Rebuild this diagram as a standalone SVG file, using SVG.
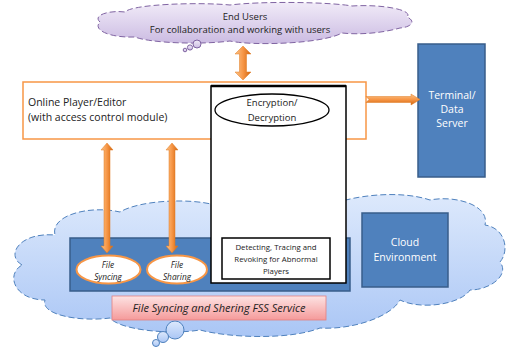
<svg xmlns="http://www.w3.org/2000/svg" width="507" height="349" viewBox="0 0 507 349">
<defs>
<linearGradient id="gPurple" x1="0" y1="0" x2="0" y2="1"><stop offset="0" stop-color="#f1ebf8"/><stop offset="1" stop-color="#cbbbe2"/></linearGradient>
<linearGradient id="gBlue" x1="0" y1="0" x2="0" y2="1"><stop offset="0" stop-color="#dde9fc"/><stop offset="1" stop-color="#aac6f5"/></linearGradient>
<linearGradient id="gPink" x1="0" y1="0" x2="0" y2="1"><stop offset="0" stop-color="#fde3e3"/><stop offset="1" stop-color="#f59a9a"/></linearGradient>
<linearGradient id="gOrV" x1="0" y1="0" x2="1" y2="0"><stop offset="0" stop-color="#fbc58a"/><stop offset="0.5" stop-color="#f79646"/><stop offset="1" stop-color="#d0650e"/></linearGradient>
<linearGradient id="gOrH" x1="0" y1="0" x2="0" y2="1"><stop offset="0" stop-color="#fbc58a"/><stop offset="0.5" stop-color="#f79646"/><stop offset="1" stop-color="#d0650e"/></linearGradient>
</defs>
<style>
text{font-family:"Open Sans","Liberation Sans",sans-serif;fill:#222}
.cloudTop{fill:url(#gPurple);stroke:#8064a2;stroke-width:1;stroke-dasharray:6 3}
.cloudBot{fill:url(#gBlue);stroke:#4f81bd;stroke-width:1;stroke-dasharray:6 3}
.blue{fill:#4f81bd;stroke:#385d8a;stroke-width:1.5}
.ov{fill:#fff;stroke:#f79646;stroke-width:2}
.arrV{fill:url(#gOrV);stroke:#e07a20;stroke-width:0.5}
.arrH{fill:url(#gOrH);stroke:#e07a20;stroke-width:0.5}
</style>

<g id="cloud-users">
<path class="cloudTop" d="M100,22 C92,15 110,10 125,12 C132,4 200,2 230,5 C262,1 330,2 352,6 C382,4 414,10 407,17 C416,21 412,27 400,28 C382,33 360,35 342,33 C322,44 252,46 230,41 C200,45 150,43 135,37 C110,38 92,30 100,22 Z"/>
<circle class="cloudTop" cx="197" cy="44" r="4" style="stroke-dasharray:none"/>
<circle class="cloudTop" cx="190" cy="47.5" r="2.6" style="stroke-dasharray:none"/>
<circle class="cloudTop" cx="185" cy="50" r="1.8" style="stroke-dasharray:none"/>
<text x="245" y="20" font-size="9.5" text-anchor="middle">End Users</text>
<text x="240" y="33" font-size="9.5" text-anchor="middle">For collaboration and working with users</text>
</g>

<g id="cloud-env">
<path class="cloudBot" d="M22,265 C5,255 20,232 55,235 C50,215 90,205 120,212 C140,200 190,198 215,205 C240,195 300,195 330,205 C355,195 400,190 430,200 C455,195 490,205 485,225 C505,228 510,250 500,262 C510,275 490,290 470,290 C460,305 420,310 400,300 C390,318 350,330 320,328 C290,340 230,338 200,330 C170,335 120,330 110,318 C80,322 40,315 45,300 C15,300 5,275 22,265 Z"/>
<circle class="cloudBot" cx="175" cy="330" r="9" style="stroke-dasharray:none"/>
<circle class="cloudBot" cx="163" cy="337" r="5.5" style="stroke-dasharray:none"/>
<circle class="cloudBot" cx="156" cy="343" r="3.5" style="stroke-dasharray:none"/>
</g>

<g id="fss-area">
<rect class="blue" x="70" y="238" width="280" height="53"/>
</g>

<g id="cloud-environment">
<rect class="blue" x="362" y="213" width="86" height="74"/>
<text x="405" y="246" font-size="10.5" text-anchor="middle" style="fill:#fff">Cloud</text>
<text x="405" y="261" font-size="10.5" text-anchor="middle" style="fill:#fff">Environment</text>
</g>

<g id="terminal">
<rect class="blue" x="418" y="44" width="67" height="133"/>
<text x="452" y="99" font-size="10.5" text-anchor="middle" style="fill:#fff">Terminal/</text>
<text x="452" y="113" font-size="10.5" text-anchor="middle" style="fill:#fff">Data</text>
<text x="452" y="127" font-size="10.5" text-anchor="middle" style="fill:#fff">Server</text>
</g>

<g id="player">
<rect x="23" y="82" width="343" height="57" fill="#fff" stroke="#f79646" stroke-width="1.5"/>
<text x="28" y="106" font-size="10.5">Online Player/Editor</text>
<text x="28" y="121" font-size="10.5">(with access control module)</text>
</g>

<g id="security">
<rect x="211" y="86" width="135" height="197" fill="#fff" stroke="#000" stroke-width="1.5"/>
<line x1="211" y1="86" x2="346" y2="86" stroke="#000" stroke-width="2.5"/>
</g>

<g id="encryption">
<ellipse cx="272" cy="110" rx="57" ry="16" fill="#fff" stroke="#000" stroke-width="1.3"/>
<text x="272" y="106" font-size="9.5" text-anchor="middle">Encryption/</text>
<text x="272" y="121" font-size="9.5" text-anchor="middle">Decryption</text>
</g>

<g id="detecting">
<rect x="222" y="238" width="108" height="41" fill="#fff" stroke="#000" stroke-width="1.5"/>
<text x="276" y="250" font-size="7.8" text-anchor="middle">Detecting, Tracing and</text>
<text x="276" y="262" font-size="7.8" text-anchor="middle">Revoking for Abnormal</text>
<text x="276" y="274" font-size="7.8" text-anchor="middle">Players</text>
</g>

<g id="file-syncing">
<ellipse class="ov" cx="108.5" cy="269.5" rx="32" ry="14"/>
<text x="108" y="268" font-size="8.3" font-style="italic" text-anchor="middle">File</text>
<text x="108" y="280" font-size="8.3" font-style="italic" text-anchor="middle">Syncing</text>
</g>

<g id="file-sharing">
<ellipse class="ov" cx="177" cy="269.5" rx="30" ry="14"/>
<text x="177" y="268" font-size="8.3" font-style="italic" text-anchor="middle">File</text>
<text x="177" y="280" font-size="8.3" font-style="italic" text-anchor="middle">Sharing</text>
</g>

<g id="fss-label">
<rect x="112" y="296" width="214" height="24" fill="url(#gPink)" stroke="#e38080" stroke-width="0.8"/>
<text x="219" y="312" font-size="11" font-style="italic" text-anchor="middle">File Syncing and Shering FSS Service</text>
</g>

<g id="connectors">
<path class="arrV" d="M243,46 L251,54 L246.5,54 L246.5,72 L251,72 L243,80 L235,72 L239.5,72 L239.5,54 L235,54 Z"/>
<path class="arrH" d="M366,96.5 L411,96.5 L411,94 L420,99.5 L411,105 L411,102.5 L366,102.5 L369,99.5 Z"/>
<path class="arrV" d="M107,143 L113,150 L110,150 L110,246 L113,246 L107,253 L101,246 L104,246 L104,150 L101,150 Z"/>
<path class="arrV" d="M172,143 L178,150 L175,150 L175,246 L178,246 L172,253 L166,246 L169,246 L169,150 L166,150 Z"/>
</g>
</svg>
